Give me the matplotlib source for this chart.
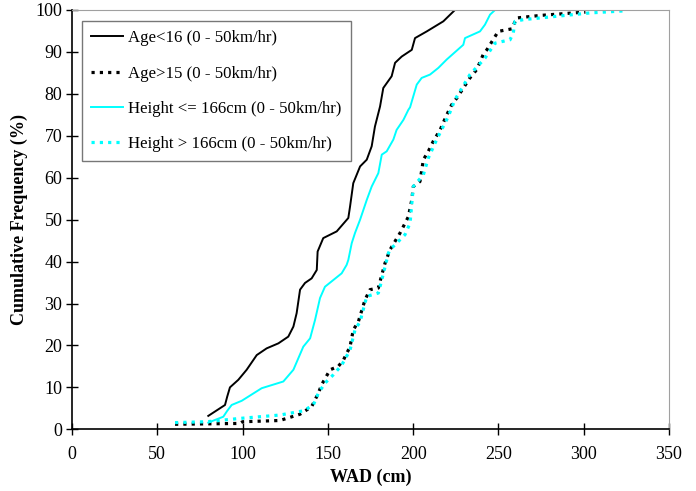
import matplotlib
matplotlib.use("Agg")
import matplotlib.pyplot as plt

plt.rcParams['font.family'] = ['Liberation Serif', 'DejaVu Serif']

# Age<16 (solid black)
age_lt16_x = [79.9, 89.7, 91.0, 92.6, 97.5, 102.4, 108.3, 114.1, 121.0, 126.8, 129.8, 131.7, 133.7,
              136.6, 140.5, 143.5, 144.0, 147.3, 155.2, 162.0, 163.0, 164.9, 168.9, 172.8, 175.7,
              177.6, 180.6, 182.5, 187.4, 189.4, 193.3, 199.2, 201.1, 208.0, 217.7, 224.5]
age_lt16_y = [3.2, 5.8, 7.8, 10.0, 11.8, 14.2, 17.7, 19.3, 20.5, 22.1, 24.5, 27.7, 33.3,
              34.9, 36.0, 38.0, 42.4, 45.6, 47.2, 50.4, 53.1, 58.7, 62.7, 64.3, 67.5,
              72.2, 77.0, 81.4, 84.2, 87.4, 88.9, 90.5, 93.3, 94.9, 97.3, 100.0]

# Age>15 (dotted black)
age_gt15_x = [60.4, 98.5, 100.0, 121.9, 133.7, 140.5, 144.4, 146.3, 151.3, 156.1, 159.1, 163.0,
              164.9, 167.9, 171.8, 174.7, 179.6, 181.6, 183.5, 186.4, 192.3, 197.2, 199.2, 200.1,
              204.0, 206.0, 208.9, 211.8, 215.8, 219.7, 222.6, 225.6, 233.3, 237.3, 241.2, 243.2,
              249.9, 257.8, 260.7, 274.4, 293.9, 301.0]
age_gt15_y = [1.2, 1.4, 1.8, 2.1, 3.6, 5.4, 8.6, 10.6, 14.2, 15.0, 16.5, 19.7,
              23.7, 25.7, 30.9, 33.3, 33.7, 36.8, 39.6, 42.8, 46.8, 50.7, 54.7, 57.9,
              59.1, 64.3, 66.3, 68.7, 71.4, 75.0, 77.4, 79.0, 83.8, 85.8, 89.5, 90.5,
              94.9, 95.5, 98.1, 98.7, 99.3, 99.5]

# Height <= 166cm (solid cyan)
h_le166_x = [79.9, 88.7, 91.0, 93.6, 99.5, 111.2, 123.9, 129.8, 135.6, 139.6, 142.5, 145.4,
             148.3, 158.1, 161.0, 162.0, 164.0, 165.9, 168.9, 172.8, 175.7, 179.6, 181.6, 184.5,
             188.4, 190.3, 194.3, 197.2, 198.2, 202.1, 205.0, 209.9, 214.8, 219.7, 229.4, 230.4,
             239.2, 242.1, 245.1, 248.0]
h_le166_y = [1.6, 3.0, 4.4, 5.8, 6.8, 9.8, 11.4, 14.2, 19.7, 21.7, 26.1, 31.3,
             34.0, 37.2, 39.2, 40.4, 44.4, 46.8, 50.0, 54.7, 57.9, 61.1, 65.5, 66.3,
             69.1, 71.4, 73.8, 76.2, 76.8, 82.2, 83.8, 84.6, 86.2, 88.2, 91.7, 93.3,
             94.9, 96.5, 98.9, 100.0]

# Height > 166cm (dotted cyan)
h_gt166_x = [60.4, 78.9, 98.5, 121.9, 135.6, 141.5, 144.4, 148.3, 153.2, 158.1, 163.0, 165.9,
             168.9, 172.8, 179.6, 181.6, 185.5, 186.4, 195.2, 198.2, 200.1, 206.0, 208.9, 213.8,
             220.6, 224.5, 233.3, 242.1, 248.0, 256.8, 258.7, 259.7, 264.6, 284.1, 303.7, 324.2]
h_gt166_y = [1.6, 1.8, 2.6, 3.4, 4.4, 5.8, 8.6, 11.0, 13.0, 15.3, 18.9, 23.7,
             25.7, 31.7, 32.5, 35.6, 42.0, 42.8, 46.4, 49.2, 57.9, 60.7, 64.7, 69.1,
             74.6, 78.6, 84.6, 88.5, 92.1, 92.9, 94.5, 97.3, 97.7, 98.5, 99.3, 99.8]

labels = ["Age<16 (0 - 50km/hr)", "Age>15 (0 - 50km/hr)",
          "Height <= 166cm (0 - 50km/hr)", "Height > 166cm (0 - 50km/hr)"]
xticks = [0, 50, 100, 150, 200, 250, 300, 350]
yticks = [0, 10, 20, 30, 40, 50, 60, 70, 80, 90, 100]

fig = plt.figure(figsize=(6.96, 4.91), dpi=100)
ax = fig.add_axes([72/696, 1-429.3/491, 597/696, 419.3/491])

cyan = "#00FFFF"
ax.plot(age_lt16_x, age_lt16_y, color="black", lw=1.4, label=labels[0], solid_joinstyle='round')
ax.plot(age_gt15_x, age_gt15_y, color="black", lw=2.3, linestyle=(0, (1, 1.6)), label=labels[1])
ax.plot(h_le166_x, h_le166_y, color=cyan, lw=1.4, label=labels[2], solid_joinstyle='round')
ax.plot(h_gt166_x, h_gt166_y, color=cyan, lw=2.3, linestyle=(0, (1, 1.6)), label=labels[3])

ax.set_xlim(0, 350)
ax.set_ylim(0, 100)
ax.set_xticks(xticks)
ax.set_yticks(yticks)
ax.tick_params(direction='inout', length=8, width=1, labelsize=13, pad=8, colors='black')
ax.tick_params(axis='y', pad=3)
for s in ['top', 'right']:
    ax.spines[s].set_color('#a0a0a0')
for s in ['left', 'bottom']:
    ax.spines[s].set_color('black')
    ax.spines[s].set_linewidth(1.2)

ax.set_xlabel("WAD (cm)", fontsize=13, fontweight='bold', labelpad=4)
ax.set_ylabel("Cumulative Frequency (%)", fontsize=13, fontweight='bold', labelpad=5)

leg = ax.legend(loc='upper left', bbox_to_anchor=((82-72)/597, (429.3-21)/419.3),
                borderaxespad=0, fontsize=12.1, frameon=True, fancybox=False,
                edgecolor='#555555', handlelength=1.9, handletextpad=0.3,
                labelspacing=1.15, borderpad=0.55)
leg.get_frame().set_linewidth(1.0)

fig.savefig("out.png", dpi=100)
